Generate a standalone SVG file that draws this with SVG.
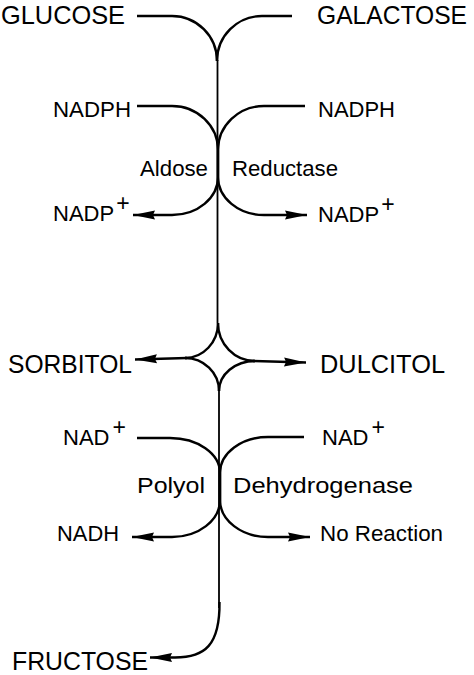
<svg xmlns="http://www.w3.org/2000/svg" width="474" height="675" viewBox="0 0 474 675">
<style>
text{font-family:"Liberation Sans",Arial,sans-serif;fill:#000}
.big{font-size:25px}
.sm{font-size:22px}
.sup{font-size:23px}
.ln{fill:none;stroke:#000;stroke-width:2.4}
.ax{fill:none;stroke:#000;stroke-width:1.8}
.arr{marker-end:url(#ah)}
</style>
<defs>
<marker id="ah" markerUnits="userSpaceOnUse" markerWidth="22" markerHeight="10" refX="22" refY="5" orient="auto" overflow="visible">
<path d="M0,0.5 L22,5 L0,9.5 L2,5 z" fill="#000"/>
</marker>
</defs>
<rect width="474" height="675" fill="#fff"/>
<g id="connectors">
<path class="ax" d="M217.5,60 V323"/>
<path class="ax" d="M219,391 V608"/>
<path class="ln" d="M137,16 H172 A45,45 0 0 1 217,61"/>
<path class="ln" d="M292,16 H262 A45,45 0 0 0 217,61"/>
<path class="ln" d="M137,106 H172 A46,44 0 0 1 218,150 V177"/>
<path class="ln arr" d="M218,177 A46,38 0 0 1 172,215 H133"/>
<path class="ln" d="M305,106 H264 A46,44 0 0 0 218,150 V177"/>
<path class="ln arr" d="M218,177 A46,38 0 0 0 264,215 H307"/>
<path class="ln" d="M218,323 A33,35 0 0 1 185,358"/>
<path class="ln" d="M185,358 A34,33 0 0 1 219,391"/>
<path class="ln" d="M218,323 A37,38 0 0 0 255,361"/>
<path class="ln" d="M255,361 A36,30 0 0 0 219,391"/>
<path class="ln arr" d="M187,358 L135,359.5"/>
<path class="ln arr" d="M253,361 L306,362.5"/>
<path class="ln" d="M137,438 H170 A50,35 0 0 1 220,473 V500"/>
<path class="ln arr" d="M220,500 A48,37 0 0 1 172,537 H132"/>
<path class="ln" d="M304,437 H268 A48,36 0 0 0 220,473 V500"/>
<path class="ln arr" d="M220,500 A48,37 0 0 0 268,537 H310"/>
<path class="ln arr" d="M219.5,602 C220,645 205,657.5 175,657.5 H150"/>
</g>
<g id="glucose"><text class="big" x="1" y="24" textLength="124" lengthAdjust="spacingAndGlyphs">GLUCOSE</text></g>
<g id="galactose"><text class="big" x="317" y="24" textLength="150" lengthAdjust="spacingAndGlyphs">GALACTOSE</text></g>
<g id="nadph-left"><text class="sm" x="53" y="117" textLength="78" lengthAdjust="spacingAndGlyphs">NADPH</text></g>
<g id="nadph-right"><text class="sm" x="318" y="117" textLength="77" lengthAdjust="spacingAndGlyphs">NADPH</text></g>
<g id="aldose-reductase">
<text class="sm" x="140" y="176" textLength="68" lengthAdjust="spacingAndGlyphs">Aldose</text>
<text class="sm" x="232" y="176" textLength="106" lengthAdjust="spacingAndGlyphs">Reductase</text>
</g>
<g id="nadp-left"><text class="sm" x="53" y="221">NADP<tspan class="sup" dx="2" dy="-10">+</tspan></text></g>
<g id="nadp-right"><text class="sm" x="318" y="222">NADP<tspan class="sup" dx="2" dy="-10">+</tspan></text></g>
<g id="sorbitol"><text class="big" x="8" y="373" textLength="124" lengthAdjust="spacingAndGlyphs">SORBITOL</text></g>
<g id="dulcitol"><text class="big" x="320" y="373" textLength="125" lengthAdjust="spacingAndGlyphs">DULCITOL</text></g>
<g id="nad-left"><text class="sm" x="63" y="445">NAD<tspan class="sup" dx="3" dy="-10">+</tspan></text></g>
<g id="nad-right"><text class="sm" x="322" y="445">NAD<tspan class="sup" dx="3" dy="-10">+</tspan></text></g>
<g id="polyol-dehydrogenase">
<text class="sm" x="137" y="493" textLength="68" lengthAdjust="spacingAndGlyphs">Polyol</text>
<text class="sm" x="233" y="493" textLength="180" lengthAdjust="spacingAndGlyphs">Dehydrogenase</text>
</g>
<g id="nadh"><text class="sm" x="57" y="541" textLength="62" lengthAdjust="spacingAndGlyphs">NADH</text></g>
<g id="no-reaction"><text class="sm" x="320" y="541" textLength="123" lengthAdjust="spacingAndGlyphs">No Reaction</text></g>
<g id="fructose"><text class="big" x="12" y="670" textLength="136" lengthAdjust="spacingAndGlyphs">FRUCTOSE</text></g>
</svg>
